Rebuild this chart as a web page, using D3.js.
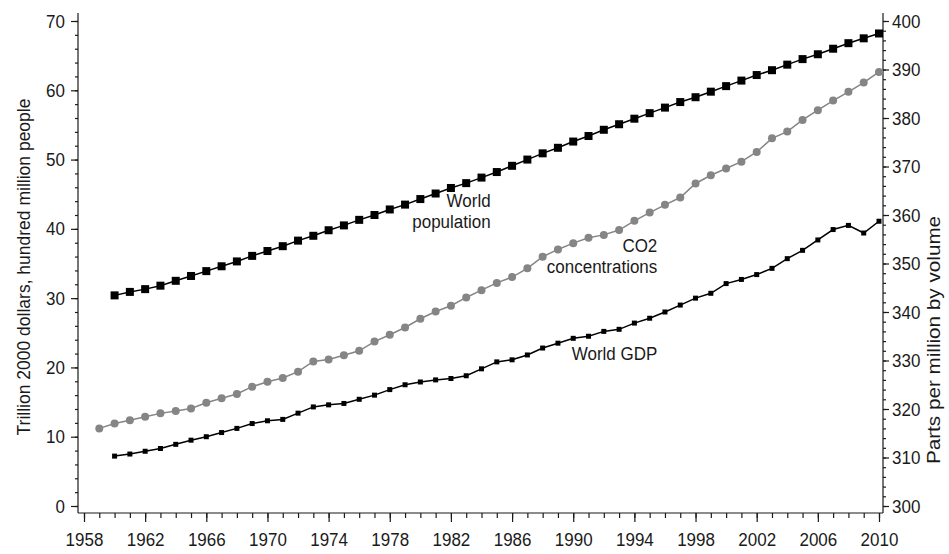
<!DOCTYPE html>
<html>
<head>
<meta charset="utf-8">
<script src="https://cdn.jsdelivr.net/npm/d3@7/dist/d3.min.js"></script>
<style>
  html, body { margin: 0; padding: 0; background: #fff; }
  svg { display: block; }
  text { font-family: "Liberation Sans", Arial, sans-serif; fill: #1a1a1a; }
  /* slightly tall lettering for tick labels and series labels */
  .tick text, text.ann {
    transform-box: fill-box;
    transform-origin: center;
    transform: scaleY(1.12);
  }
</style>
</head>
<body>
<svg id="chart" width="949" height="554"></svg>
<script>
// World population, hundred million people (1960-2010)
const popYears = d3.range(1960, 2011);
const population = [
  30.4, 30.9, 31.3, 31.8, 32.5, 33.2, 33.9, 34.6, 35.3, 36.1,
  36.8, 37.5, 38.3, 39.0, 39.8, 40.5, 41.3, 42.0, 42.8, 43.5,
  44.3, 45.1, 45.9, 46.6, 47.4, 48.2, 49.1, 50.0, 50.9, 51.7,
  52.6, 53.4, 54.3, 55.1, 55.9, 56.7, 57.5, 58.3, 59.0, 59.8,
  60.6, 61.4, 62.2, 62.9, 63.7, 64.5, 65.2, 66.0, 66.8, 67.5,
  68.2
];

// World GDP, trillion 2000 dollars (1960-2010)
const gdpYears = d3.range(1960, 2011);
const gdp = [
  7.2, 7.5, 7.9, 8.3, 8.9, 9.5, 10.0, 10.6, 11.2, 11.9,
  12.3, 12.5, 13.4, 14.3, 14.6, 14.8, 15.4, 16.0, 16.8, 17.5,
  17.9, 18.2, 18.4, 18.8, 19.8, 20.8, 21.1, 21.8, 22.8, 23.5,
  24.2, 24.5, 25.2, 25.5, 26.4, 27.1, 28.0, 29.0, 30.0, 30.7,
  32.1, 32.7, 33.4, 34.3, 35.7, 36.9, 38.4, 39.9, 40.5, 39.4,
  41.1
];

// Atmospheric CO2, parts per million by volume (1959-2010)
const co2Years = d3.range(1959, 2011);
const co2 = [
  316.0, 317.0, 317.7, 318.4, 319.1, 319.6, 320.1, 321.3, 322.2, 323.1,
  324.6, 325.6, 326.4, 327.7, 329.8, 330.2, 331.1, 332.0, 333.9, 335.3,
  336.8, 338.6, 340.1, 341.3, 343.0, 344.5, 346.0, 347.2, 349.0, 351.4,
  352.9, 354.2, 355.3, 355.9, 356.9, 358.8, 360.5, 362.1, 363.6, 366.5,
  368.2, 369.6, 371.0, 373.0, 375.8, 377.2, 379.6, 381.6, 383.6, 385.4,
  387.3, 389.5
];

// Axis tick values
const xMajorTicks = d3.range(1958, 2011, 4);
const xMinorTicks = d3.range(1958, 2011, 1);
const leftMajorTicks = d3.range(0, 71, 10);
const leftMinorTicks = d3.range(0, 71, 2);
const rightMajorTicks = d3.range(300, 401, 10);
const rightMinorTicks = d3.range(300, 401, 2);

// In-chart series labels: [year, left-axis value] of the right end of the first line
const seriesLabels = [
  { year: 1984.6, value: 43.3, lines: ["World", "population"] },
  { year: 1995.5, value: 36.7, lines: ["CO2", "concentrations"] },
  { year: 1995.5, value: 21.2, lines: ["World GDP"] }
];

const svg = d3.select("#chart");

// Frame
const frame = { left: 78, right: 883, top: 13, bottom: 513 };
const x = d3.scaleLinear().domain([1958, 2010]).range([84, 879]);
const yL = d3.scaleLinear().domain([0, 70]).range([506, 21]);
const yR = d3.scaleLinear().domain([300, 400]).range([506, 21]);

const FONT = 17;

// Axis lines
svg.append("g").attr("stroke", "#1a1a1a").attr("stroke-width", 1.2)
  .selectAll("line")
  .data([
    [frame.left, frame.top, frame.left, frame.bottom],
    [frame.right, frame.top, frame.right, frame.bottom],
    [frame.left, frame.bottom, frame.right, frame.bottom]
  ])
  .join("line")
  .attr("x1", d => d[0]).attr("y1", d => d[1])
  .attr("x2", d => d[2]).attr("y2", d => d[3]);

function styleAxis(g) {
  g.select(".domain").remove();
  g.selectAll(".tick line").attr("stroke", "#1a1a1a").attr("stroke-width", 1.2);
  g.selectAll(".tick text").attr("font-size", FONT).attr("fill", "#1a1a1a")
    .attr("font-family", "'Liberation Sans', Arial, sans-serif");
}

// Bottom axis
svg.append("g").attr("transform", `translate(0,${frame.bottom})`)
  .call(d3.axisBottom(x).tickValues(xMinorTicks).tickSize(5).tickFormat(""))
  .call(styleAxis);
svg.append("g").attr("transform", `translate(0,${frame.bottom})`)
  .call(d3.axisBottom(x).tickValues(xMajorTicks).tickSize(9).tickPadding(11).tickFormat(d3.format("d")))
  .call(styleAxis);

// Left axis
svg.append("g").attr("transform", `translate(${frame.left},0)`)
  .call(d3.axisLeft(yL).tickValues(leftMinorTicks).tickSize(3).tickFormat(""))
  .call(styleAxis);
svg.append("g").attr("transform", `translate(${frame.left},0)`)
  .call(d3.axisLeft(yL).tickValues(leftMajorTicks).tickSize(7).tickPadding(6).tickFormat(d3.format("d")))
  .call(styleAxis);

// Right axis
svg.append("g").attr("transform", `translate(${frame.right},0)`)
  .call(d3.axisRight(yR).tickValues(rightMinorTicks).tickSize(3).tickFormat(""))
  .call(styleAxis);
svg.append("g").attr("transform", `translate(${frame.right},0)`)
  .call(d3.axisRight(yR).tickValues(rightMajorTicks).tickSize(6).tickPadding(3).tickFormat(d3.format("d")))
  .call(styleAxis);

// Axis titles
svg.append("text")
  .attr("transform", `translate(30,267) rotate(-90)`)
  .attr("text-anchor", "middle").attr("font-size", 17.5)
  .text("Trillion 2000 dollars, hundred million people");
svg.append("text")
  .attr("transform", `translate(940,340) scale(1,1.15) rotate(-90)`)
  .attr("text-anchor", "middle").attr("font-size", 18)
  .text("Parts per million by volume");

// Series
const pts = (years, vals) => years.map((yr, i) => [yr, vals[i]]);
const popData = pts(popYears, population);
const gdpData = pts(gdpYears, gdp);
const co2Data = pts(co2Years, co2);

const lineL = d3.line().x(d => x(d[0])).y(d => yL(d[1]));
const lineR = d3.line().x(d => x(d[0])).y(d => yR(d[1]));

// CO2: grey line with grey dots (right axis)
svg.append("path").datum(co2Data).attr("d", lineR)
  .attr("fill", "none").attr("stroke", "#858585").attr("stroke-width", 1.5);
svg.append("g").selectAll("circle").data(co2Data).join("circle")
  .attr("cx", d => x(d[0])).attr("cy", d => yR(d[1])).attr("r", 4)
  .attr("fill", "#858585");

// World population: black line with large squares
svg.append("path").datum(popData).attr("d", lineL)
  .attr("fill", "none").attr("stroke", "#000").attr("stroke-width", 1.5);
const popSize = 8;
svg.append("g").selectAll("rect").data(popData).join("rect")
  .attr("x", d => x(d[0]) - popSize / 2).attr("y", d => yL(d[1]) - popSize / 2)
  .attr("width", popSize).attr("height", popSize).attr("fill", "#000");

// World GDP: black line with small squares
svg.append("path").datum(gdpData).attr("d", lineL)
  .attr("fill", "none").attr("stroke", "#000").attr("stroke-width", 1.5);
const gdpSize = 5;
svg.append("g").selectAll("rect").data(gdpData).join("rect")
  .attr("x", d => x(d[0]) - gdpSize / 2).attr("y", d => yL(d[1]) - gdpSize / 2)
  .attr("width", gdpSize).attr("height", gdpSize).attr("fill", "#000");

// Series labels, one text element per line
seriesLabels.forEach(lbl => {
  lbl.lines.forEach((s, i) => {
    svg.append("text").attr("class", "ann")
      .attr("x", x(lbl.year)).attr("y", yL(lbl.value) + i * 21)
      .attr("text-anchor", "end").attr("font-size", FONT)
      .text(s);
  });
});
</script>
</body>
</html>
